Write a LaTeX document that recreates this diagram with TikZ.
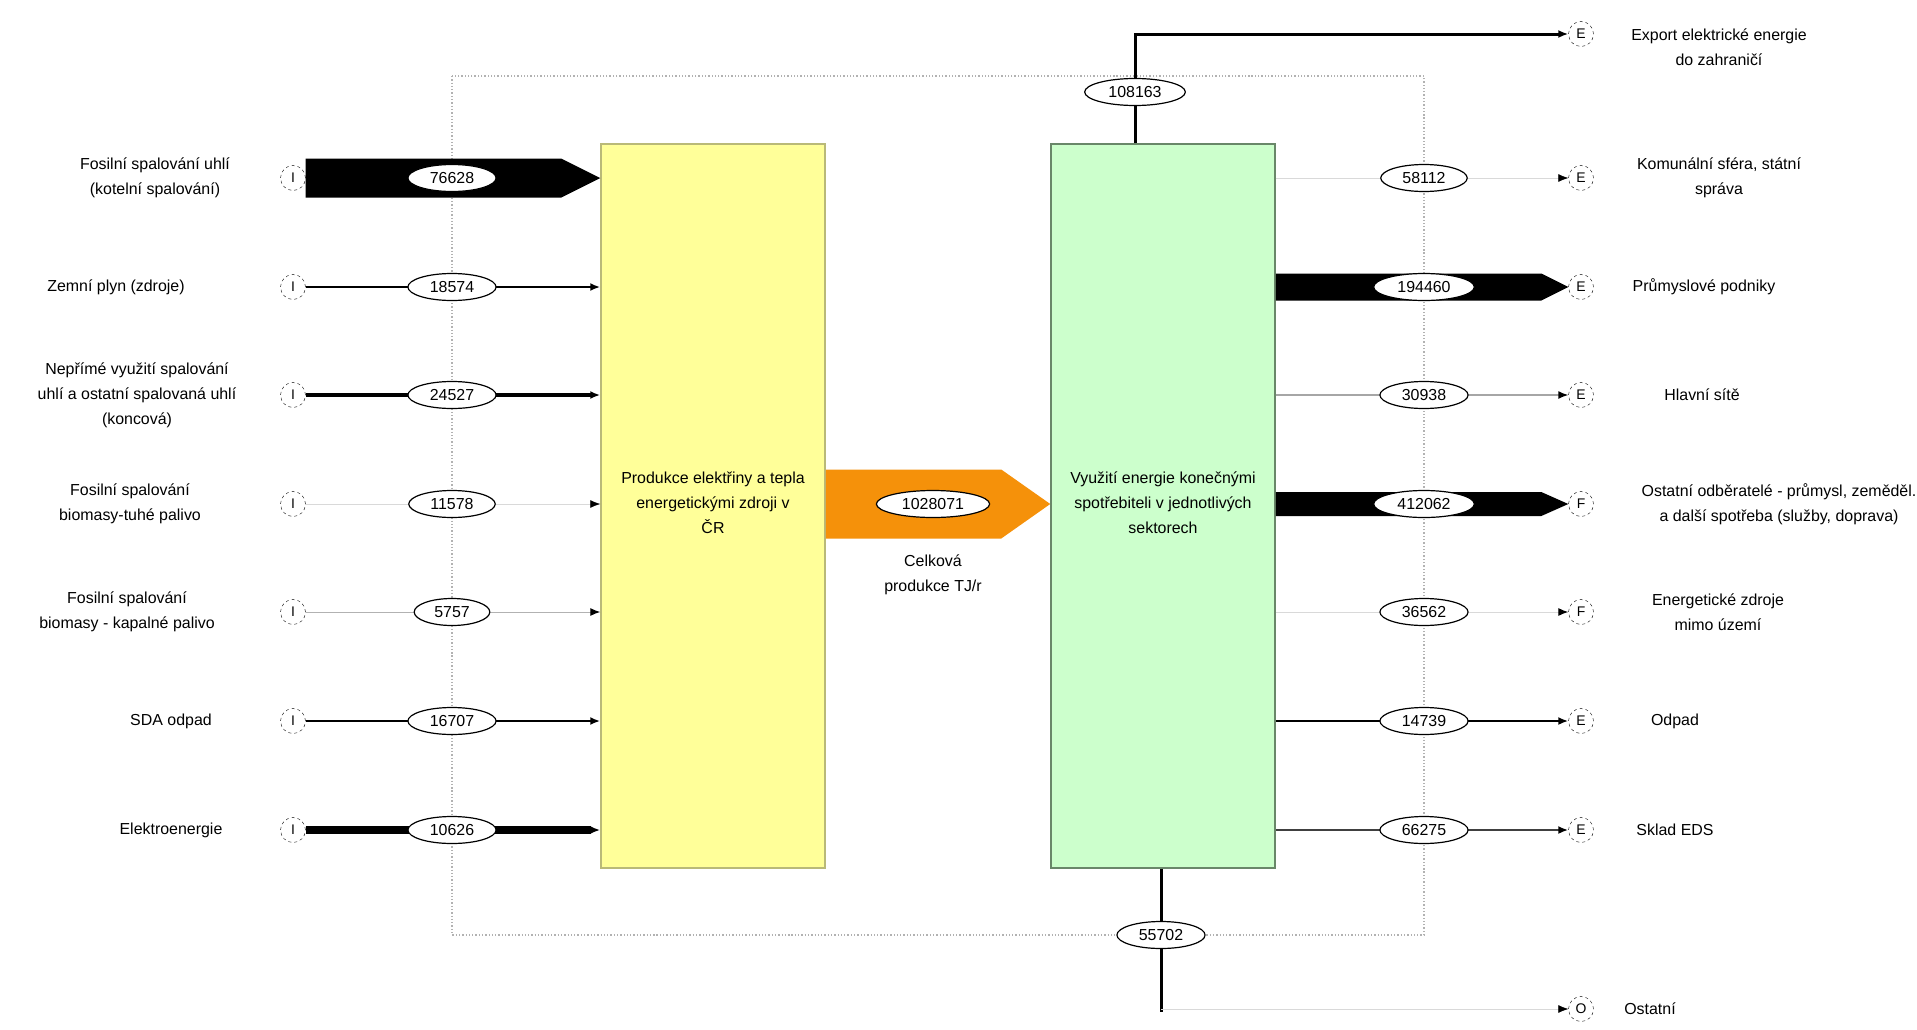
\documentclass[tikz,border=0pt]{standalone}
\usepackage{fontspec}
\setmainfont{Liberation Sans}
\usetikzlibrary{arrows.meta,shapes.geometric,calc,positioning}

\definecolor{prodfill}{RGB}{255,255,153}
\definecolor{prodline}{RGB}{185,185,120}
\definecolor{usefill}{RGB}{204,255,204}
\definecolor{useline}{RGB}{105,135,105}
\definecolor{flowor}{RGB}{245,145,10}

% wide flow: from, to, half width, tip length, colour
\newcommand{\fatflow}[5]{%
  \fill[#5] ($(#1)+(0,-#3)$) -- ($(#2)+(-#4,-#3)$) -- (#2) -- ($(#2)+(-#4,#3)$) -- ($(#1)+(0,#3)$) -- cycle;}

\begin{document}
\begin{tikzpicture}[x=1bp,y=-1bp]
  \tikzstyle{every node}+=[font=\fontsize{16}{25}\selectfont]
  \tikzstyle{port}=[draw,dashed,circle,minimum size=25bp,inner sep=0pt,font=\fontsize{14}{14}\selectfont]
  \tikzstyle{val}=[draw,line width=1.2bp,fill=white,ellipse,minimum height=27bp,inner xsep=9bp,inner ysep=0pt]
  \tikzstyle{lbl}=[align=center]
  \tikzstyle{tip}=[-{Latex[length=10bp,width=8bp,color=black]}]
  \useasboundingbox (0,0) rectangle (1917,1029);

  % frame of the balance
  \draw[gray!60,dotted,line width=1.3bp] (452,76) rectangle (1424,935);

  % blocks
  \node[draw=prodline,fill=prodfill,line width=1.5bp,minimum width=224bp,minimum height=724bp] (prod) at (713,506) {};
  \node[draw=useline,fill=usefill,line width=1.5bp,minimum width=224bp,minimum height=724bp] (use) at (1163,506) {};
  \node[lbl] at (713,503) {Produkce elektřiny a tepla\\energetickými zdroji v\\ČR};
  \node[lbl] at (1163,503) {Využití energie konečnými\\spotřebiteli v jednotlivých\\sektorech};

  % inputs
  \node[port] (in1) at (293,178) {I};
  \node[port] (in2) at (293,287) {I};
  \node[port] (in3) at (293,395) {I};
  \node[port] (in4) at (293,504) {I};
  \node[port] (in5) at (293,612) {I};
  \node[port] (in6) at (293,721) {I};
  \node[port] (in7) at (293,830) {I};
  \node[lbl] at (155,178) {Fosilní spalování uhlí\\(kotelní spalování)};
  \node[lbl] at (116,287) {Zemní plyn (zdroje)};
  \node[lbl] at (137,395) {Nepřímé využití spalování\\uhlí a ostatní spalovaná uhlí\\(koncová)};
  \node[lbl] at (130,504) {Fosilní spalování\\biomasy-tuhé palivo};
  \node[lbl] at (127,612) {Fosilní spalování\\biomasy - kapalné palivo};
  \node[lbl] at (171,721) {SDA odpad};
  \node[lbl] at (171,830) {Elektroenergie};

  % outputs
  \node[port] (out0) at (1581,34) {E};
  \node[port] (out1) at (1581,178) {E};
  \node[port] (out2) at (1581,287) {E};
  \node[port] (out3) at (1581,395) {E};
  \node[port] (out4) at (1581,504) {F};
  \node[port] (out5) at (1581,612) {F};
  \node[port] (out6) at (1581,721) {E};
  \node[port] (out7) at (1581,830) {E};
  \node[port] (out8) at (1581,1009) {O};
  \node[lbl] at (1719,47) {Export elektrické energie\\do zahraničí};
  \node[lbl] at (1719,178) {Komunální sféra, státní\\správa};
  \node[lbl] at (1704,287) {Průmyslové podniky};
  \node[lbl] at (1702,395) {Hlavní sítě};
  \node[lbl] at (1779,504) {Ostatní odběratelé - průmysl, zeměděl.\\a další spotřeba (služby, doprava)};
  \node[lbl] at (1718,612) {Energetické zdroje\\mimo území};
  \node[lbl] at (1675,721) {Odpad};
  \node[lbl] at (1675,830) {Sklad EDS};
  \node[lbl] at (1650,1009) {Ostatní};

  % input flows
  \fatflow{in1.east}{prod.west |- in1}{19.5}{39}{black}
  \draw[tip,line width=2.5bp] (in2) -- (prod.west |- in2);
  \draw[tip,line width=4.5bp] (in3) -- (prod.west |- in3);
  \draw[tip,line width=0.6bp,gray!30] (in4) -- (prod.west |- in4);
  \draw[tip,line width=1bp,gray!60] (in5) -- (prod.west |- in5);
  \draw[tip,line width=2.5bp] (in6) -- (prod.west |- in6);
  \draw[tip,line width=8bp] (in7) -- (prod.west |- in7);

  % total production
  \fatflow{prod.east |- 0,504}{use.west |- 0,504}{34.5}{49}{flowor}
  \node[lbl] at (933,575) {Celková\\produkce TJ/r};

  % output flows
  \draw[tip,line width=3bp] (use.north -| 1135,0) |- (out0);
  \draw[tip,line width=0.6bp,gray!30] (use.east |- out1) -- (out1);
  \fatflow{use.east |- out2}{out2.west}{13.5}{27}{black}
  \draw[tip,line width=1.5bp,gray!70] (use.east |- out3) -- (out3);
  \fatflow{use.east |- out4}{out4.west}{12}{27}{black}
  \draw[tip,line width=1bp,gray!30] (use.east |- out5) -- (out5);
  \draw[tip,line width=2.5bp] (use.east |- out6) -- (out6);
  \draw[tip,line width=2bp,black!75] (use.east |- out7) -- (out7);
  \coordinate (drop) at (1161,1012);
  \draw[line width=3bp] (use.south -| drop) -- (drop);
  \draw[tip,line width=0.6bp,gray!30] (drop |- out8) -- (out8);

  % values
  \node[val] (v1) at (452,178) {76628};
  \node[val] (v2) at (452,287) {18574};
  \node[val] (v3) at (452,395) {24527};
  \node[val] (v4) at (452,504) {11578};
  \node[val] (v5) at (452,612) {5757};
  \node[val] (v6) at (452,721) {16707};
  \node[val] (v7) at (452,830) {10626};
  \node[val] (vt) at (933,504) {1028071};
  \node[val] (w0) at (1135,92) {108163};
  \node[val] (w1) at (1424,178) {58112};
  \node[val] (w2) at (1424,287) {194460};
  \node[val] (w3) at (1424,395) {30938};
  \node[val] (w4) at (1424,504) {412062};
  \node[val] (w5) at (1424,612) {36562};
  \node[val] (w6) at (1424,721) {14739};
  \node[val] (w7) at (1424,830) {66275};
  \node[val] (w8) at (1161,935) {55702};
\end{tikzpicture}
\end{document}
